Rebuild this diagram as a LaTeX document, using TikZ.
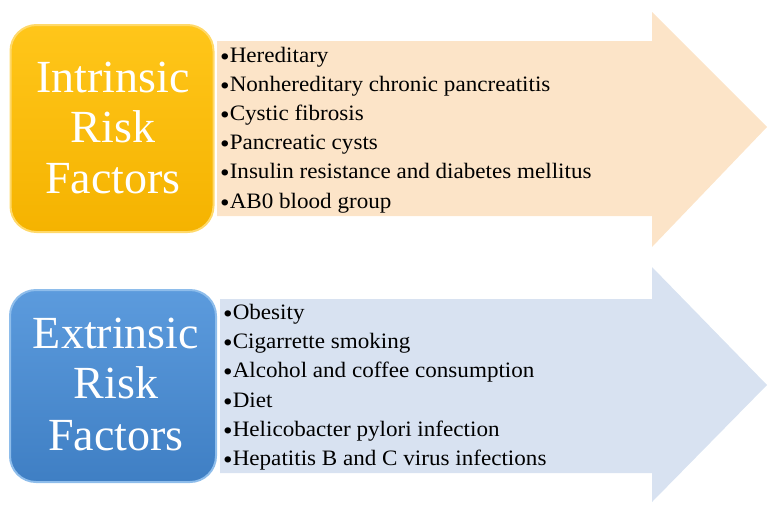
\documentclass[tikz,border=0pt]{standalone}
\usepackage{fontspec}
\setmainfont{Liberation Serif}
\newfontfamily\itemfont[FakeStretch=1.05]{Liberation Serif}
\definecolor{goldA}{HTML}{FFC61A}
\definecolor{goldB}{HTML}{F5B300}
\definecolor{goldE}{HTML}{FFD96A}
\definecolor{peach}{HTML}{FCE4C8}
\definecolor{blueA}{HTML}{5C9BDD}
\definecolor{blueB}{HTML}{3F7FC4}
\definecolor{blueE}{HTML}{8EBDEB}
\definecolor{pale}{HTML}{D8E2F1}
\newcommand{\bul}{\raisebox{-3pt}{\fontsize{26}{26}\selectfont •}}
\tikzset{
  titlebox/.style={rounded corners=26pt, line width=2pt},
  titletext/.style={text=white, font=\fontsize{46}{46}\selectfont, anchor=base, inner sep=0pt},
  itemtext/.style={text=black, font=\itemfont\fontsize{22}{22}\selectfont, anchor=base west, inner sep=0pt},
}
\begin{document}
\begin{tikzpicture}[x=1pt,y=-1pt]
\useasboundingbox (0,0) rectangle (776,509);
% top arrow
\fill[peach] (217,41) -- (652,41) -- (652,12) -- (767,127) -- (652,247) -- (652,216) -- (217,216) -- cycle;
% bottom arrow
\fill[pale] (220,299) -- (652,299) -- (652,267) -- (767,385) -- (652,502) -- (652,473) -- (220,473) -- cycle;
% boxes
\node[titlebox, draw=goldE, top color=goldA, bottom color=goldB, minimum width=203pt, minimum height=207pt, inner sep=0pt] (ibox) at (112,128.5) {};
\node[titlebox, draw=blueE, top color=blueA, bottom color=blueB, minimum width=206pt, minimum height=192pt, inner sep=0pt] (ebox) at (113,386) {};
% titles
\node[titletext] (i1) at (113,92) {Intrinsic};
\node[titletext] (i2) at (113,142) {Risk};
\node[titletext] (i3) at (113,193) {Factors};
\node[titletext] (e1) at (116,348) {Extrinsic};
\node[titletext] (e2) at (116,398) {Risk};
\node[titletext] (e3) at (116,450) {Factors};
% items top
\node[itemtext] (a1) at (220,62) {\bul Hereditary};
\node[itemtext] (a2) at (220,91) {\bul Nonhereditary chronic pancreatitis};
\node[itemtext] (a3) at (220,120) {\bul Cystic fibrosis};
\node[itemtext] (a4) at (220,149) {\bul Pancreatic cysts};
\node[itemtext] (a5) at (220,178.5) {\bul Insulin resistance and diabetes mellitus};
\node[itemtext] (a6) at (220,208) {\bul AB0 blood group};
% items bottom
\node[itemtext] (b1) at (223,319.5) {\bul Obesity};
\node[itemtext] (b2) at (223,348.5) {\bul Cigarrette smoking};
\node[itemtext] (b3) at (223,377.5) {\bul Alcohol and coffee consumption};
\node[itemtext] (b4) at (223,407) {\bul Diet};
\node[itemtext] (b5) at (223,436.5) {\bul Helicobacter pylori infection};
\node[itemtext] (b6) at (223,465.5) {\bul Hepatitis B and C virus infections};
\end{tikzpicture}
\end{document}
